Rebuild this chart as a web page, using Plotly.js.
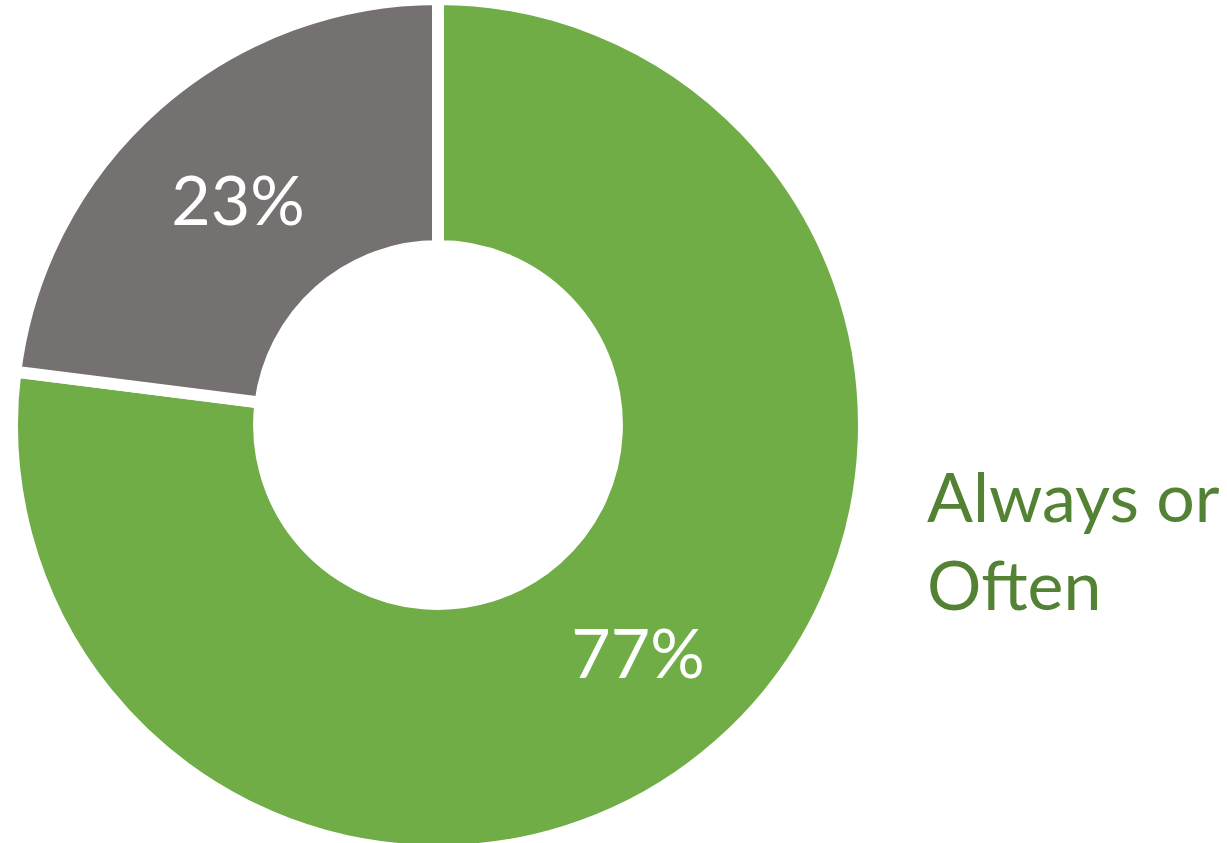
<!DOCTYPE html>
<html>
<head>
<meta charset="utf-8">
<script src="https://cdn.plot.ly/plotly-3.0.1.min.js"></script>
<style>
  html, body { margin: 0; padding: 0; overflow: hidden; background: #ffffff; width: 1227px; height: 843px; }
  #chart { position: absolute; left: 0; top: -20px; width: 1227px; height: 900px; }
</style>
</head>
<body>
<div id="chart"></div>
<script>
// Data
const categories = ["Always or Often", "Sometimes, Rarely or Never"];
const values = [77, 23];
const sliceColors = ["#70AD47", "#767171"];
const shownLabel = "Always or<br>Often";

const trace = {
  type: "pie",
  labels: categories,
  values: values,
  sort: false,
  direction: "clockwise",
  rotation: 0,
  hole: 0.42,
  marker: { colors: sliceColors, line: { color: "#ffffff", width: 12 } },
  textinfo: "percent",
  texttemplate: "%{percent:.0%}",
  textposition: "inside",
  insidetextorientation: "horizontal",
  textfont: { family: "Lato, 'Open Sans', sans-serif", size: 68, color: "#ffffff" },
  hoverinfo: "label+percent",
  showlegend: false,
  domain: { x: [0.00978, 0.70415], y: [0.032222, 0.978889] }
};

const layout = {
  width: 1227,
  height: 900,
  margin: { l: 0, r: 0, t: 0, b: 0 },
  paper_bgcolor: "#ffffff",
  showlegend: false,
  annotations: [{
    text: shownLabel,
    xref: "paper", yref: "paper",
    x: 925 / 1227, y: 0.378,
    xanchor: "left", yanchor: "middle",
    align: "left",
    showarrow: false,
    font: { family: "Lato, 'Open Sans', sans-serif", size: 68, color: "#548235" }
  }]
};

Plotly.newPlot("chart", [trace], layout, { displayModeBar: false, staticPlot: true });
</script>
</body>
</html>
